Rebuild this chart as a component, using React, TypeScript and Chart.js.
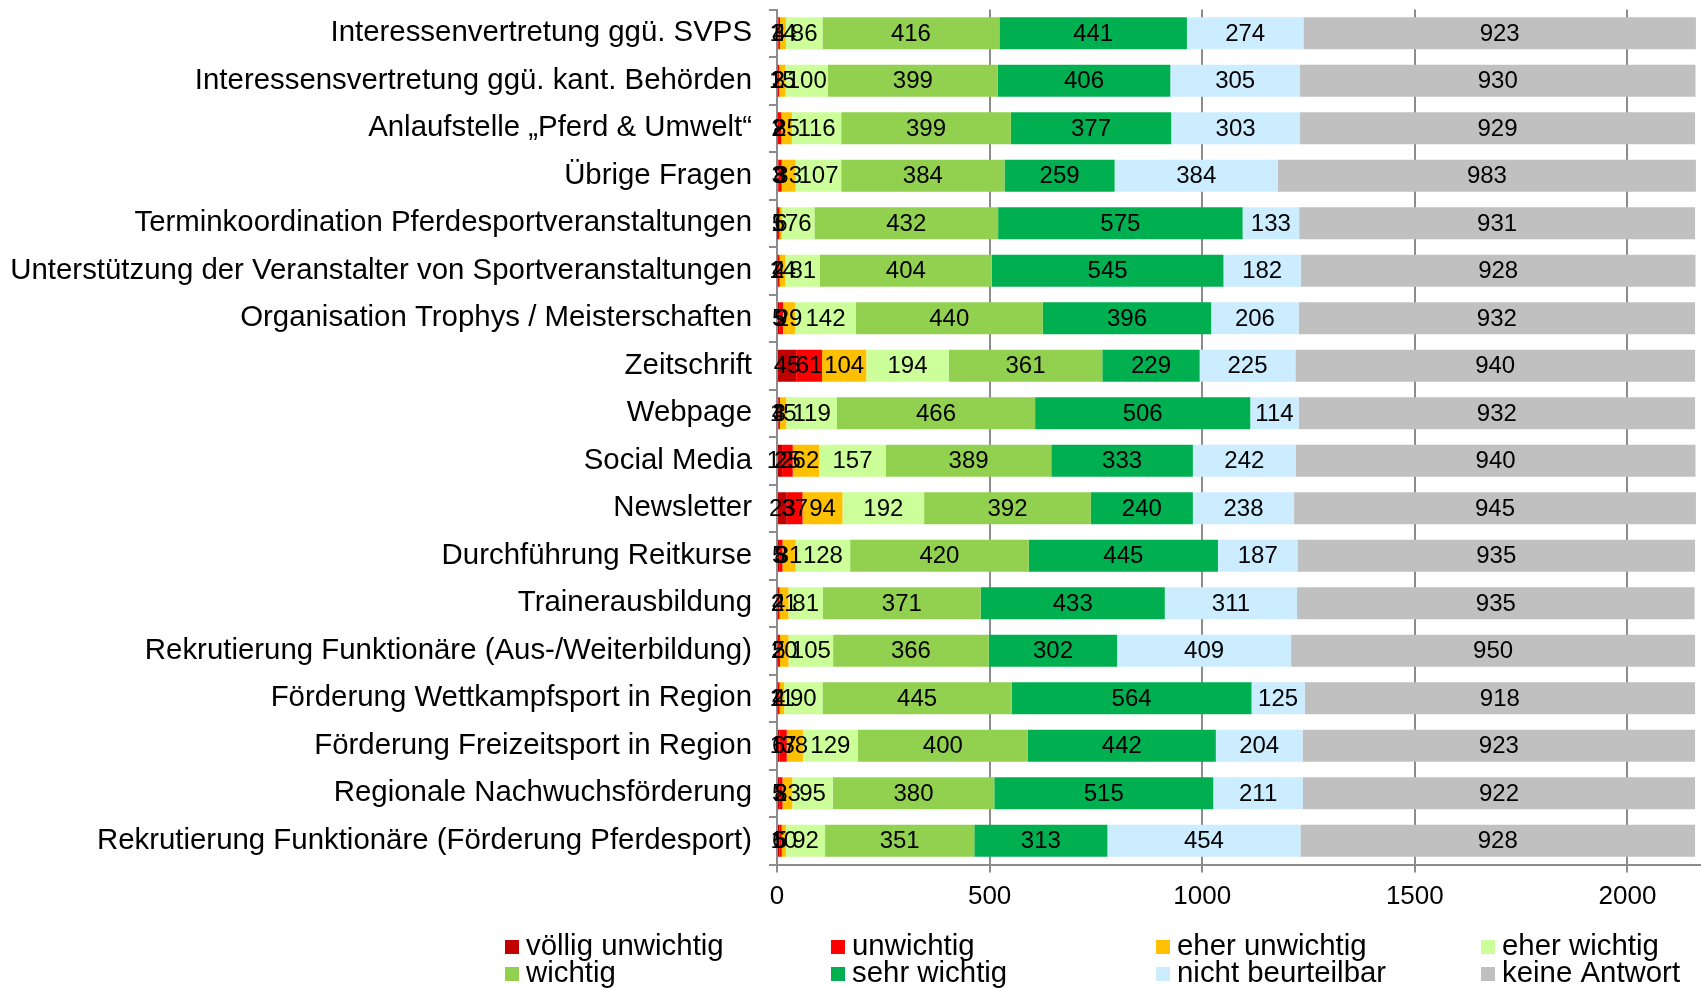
import React, { useEffect, useRef } from 'react';
import { Chart, registerables } from 'chart.js';

Chart.register(...registerables);

const categories = [
  'Interessenvertretung ggü. SVPS',
  'Interessensvertretung ggü. kant. Behörden',
  'Anlaufstelle „Pferd & Umwelt“',
  'Übrige Fragen',
  'Terminkoordination Pferdesportveranstaltungen',
  'Unterstützung der Veranstalter von Sportveranstaltungen',
  'Organisation Trophys / Meisterschaften',
  'Zeitschrift',
  'Webpage',
  'Social Media',
  'Newsletter',
  'Durchführung Reitkurse',
  'Trainerausbildung',
  'Rekrutierung Funktionäre (Aus-/Weiterbildung)',
  'Förderung Wettkampfsport in Region',
  'Förderung Freizeitsport in Region',
  'Regionale Nachwuchsförderung',
  'Rekrutierung Funktionäre (Förderung Pferdesport)',
];

const seriesNames = [
  'völlig unwichtig',
  'unwichtig',
  'eher unwichtig',
  'eher wichtig',
  'wichtig',
  'sehr wichtig',
  'nicht beurteilbar',
  'keine Antwort',
];

const seriesColors = [
  '#C00000',
  '#FF0000',
  '#FFC000',
  '#CCFF99',
  '#92D050',
  '#00B050',
  '#CCECFF',
  '#C0C0C0',
];

const voelligUnwichtig = [3, 2, 2, 3, 1, 2, 5, 45, 4, 12, 23, 5, 2, 2, 2, 6, 5, 6];
const unwichtig = [4, 3, 8, 8, 5, 4, 9, 61, 3, 25, 37, 8, 4, 5, 4, 17, 8, 5];
const eherUnwichtig = [14, 15, 25, 33, 6, 14, 29, 104, 15, 62, 94, 31, 21, 20, 11, 38, 23, 10];
const eherWichtig = [86, 100, 116, 107, 76, 81, 142, 194, 119, 157, 192, 128, 81, 105, 90, 129, 95, 92];
const wichtig = [416, 399, 399, 384, 432, 404, 440, 361, 466, 389, 392, 420, 371, 366, 445, 400, 380, 351];
const sehrWichtig = [441, 406, 377, 259, 575, 545, 396, 229, 506, 333, 240, 445, 433, 302, 564, 442, 515, 313];
const nichtBeurteilbar = [274, 305, 303, 384, 133, 182, 206, 225, 114, 242, 238, 187, 311, 409, 125, 204, 211, 454];
const keineAntwort = [923, 930, 929, 983, 931, 928, 932, 940, 932, 940, 945, 935, 935, 950, 918, 923, 922, 928];

const xTicks = [0, 500, 1000, 1500, 2000];
const xMax = 2173;

const FONT = '"Liberation Sans", Arial, sans-serif';
const W = 1701;
const H = 988;
const PLOT_LEFT = 777;
const PLOT_TOP = 9.5;
const PLOT_BOTTOM = 864.5;
const AXIS_GRAY = '#8c8c8c';

const legendColX = [505, 831, 1156, 1481];
const legendRowY = [947, 974];

const labelPlugin = {
  id: 'segLabels',
  afterDatasetsDraw(chart: any) {
    const ctx = chart.ctx;
    ctx.save();
    ctx.font = `24px ${FONT}`;
    ctx.fillStyle = '#000';
    ctx.textAlign = 'center';
    ctx.textBaseline = 'middle';
    chart.data.datasets.forEach((ds: any, i: number) => {
      const meta = chart.getDatasetMeta(i);
      meta.data.forEach((el: any, j: number) => {
        const p = el.getProps(['x', 'y', 'base'], true);
        ctx.fillText(String(ds.data[j]), (p.x + p.base) / 2, p.y + 1);
      });
    });
    ctx.restore();
  },
};

const legendPlugin = {
  id: 'gridLegend',
  afterDraw(chart: any) {
    const ctx = chart.ctx;
    ctx.save();
    ctx.font = `29.4px ${FONT}`;
    ctx.textAlign = 'left';
    ctx.textBaseline = 'middle';
    chart.data.datasets.forEach((ds: any, i: number) => {
      const col = i % 4;
      const row = Math.floor(i / 4);
      const x = legendColX[col];
      const y = legendRowY[row];
      ctx.fillStyle = ds.backgroundColor;
      ctx.fillRect(x, y - 7, 14, 14);
      ctx.fillStyle = '#000';
      ctx.fillText(ds.label, x + 21, y);
    });
    ctx.restore();
  },
};

export default function App() {
  const ref = useRef<HTMLCanvasElement>(null);

  useEffect(() => {
    const canvas = ref.current;
    if (!canvas) return;
    const series = [
      voelligUnwichtig,
      unwichtig,
      eherUnwichtig,
      eherWichtig,
      wichtig,
      sehrWichtig,
      nichtBeurteilbar,
      keineAntwort,
    ];
    const chart = new Chart(canvas, {
      type: 'bar',
      data: {
        labels: categories,
        datasets: series.map((d, i) => ({
          label: seriesNames[i],
          data: d,
          backgroundColor: seriesColors[i],
          borderWidth: 0,
          barPercentage: 0.67,
          categoryPercentage: 1,
        })),
      },
      options: {
        indexAxis: 'y',
        responsive: false,
        animation: false,
        devicePixelRatio: 1,
        layout: { padding: { top: PLOT_TOP, right: 0, left: 0, bottom: 0 } },
        plugins: {
          legend: { display: false },
          tooltip: { enabled: false },
        },
        scales: {
          x: {
            stacked: true,
            min: 0,
            max: xMax,
            afterBuildTicks: (s: any) => {
              s.ticks = xTicks.map((v) => ({ value: v }));
            },
            afterFit: (s: any) => {
              s.height = H - PLOT_BOTTOM;
              s.paddingLeft = 0;
              s.paddingRight = 0;
            },
            ticks: {
              font: { size: 26, family: FONT },
              color: '#000',
              padding: 9,
              callback: (v: any) => String(v),
            },
            grid: {
              color: AXIS_GRAY,
              lineWidth: 2,
              tickLength: 8,
              drawTicks: true,
            },
            border: { display: true, color: AXIS_GRAY, width: 2 },
          },
          y: {
            stacked: true,
            z: 1,
            afterFit: (s: any) => {
              s.width = PLOT_LEFT;
              s.paddingTop = 0;
              s.paddingBottom = 0;
            },
            ticks: {
              autoSkip: false,
              font: { size: 29.4, family: FONT },
              color: '#000',
              padding: 17,
            },
            grid: {
              drawOnChartArea: false,
              drawTicks: true,
              tickLength: 8,
              color: AXIS_GRAY,
              lineWidth: 2,
              offset: true,
            },
            border: { display: true, color: AXIS_GRAY, width: 2 },
          },
        },
      } as any,
      plugins: [labelPlugin, legendPlugin],
    });
    return () => chart.destroy();
  }, []);

  return (
    <div style={{ position: 'fixed', left: 0, top: 0, width: W, height: H, background: '#fff' }}>
      <canvas ref={ref} width={W} height={H} style={{ display: 'block', width: W, height: H }} />
    </div>
  );
}
